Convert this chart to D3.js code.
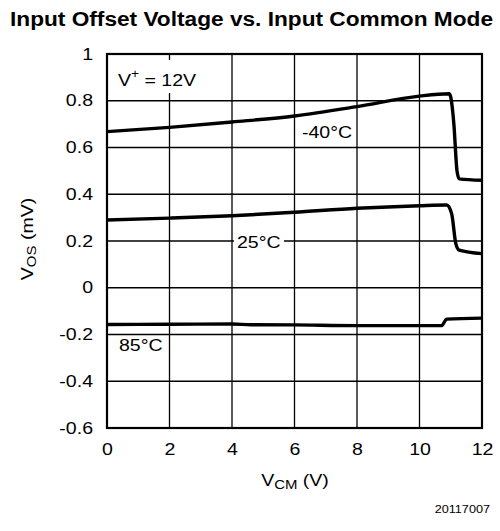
<!DOCTYPE html>
<html>
<head>
<meta charset="utf-8">
<script src="https://cdn.jsdelivr.net/npm/d3@7"></script>
<style>
  html, body { margin: 0; padding: 0; background: #fff; }
  svg { display: block; font-family: "Liberation Sans", Arial, sans-serif; }
</style>
</head>
<body>
<svg id="chart" width="500" height="531"></svg>
<script>
// ─── Data ─────────────────────────────────────────
const xTicks = [0, 2, 4, 6, 8, 10, 12];
const yTicks = [-0.6, -0.4, -0.2, 0, 0.2, 0.4, 0.6, 0.8, 1];

const vcmM40 = [0, 2, 4, 6, 8, 10, 10.95, 11.0, 11.1, 11.2, 11.27, 12];
const vosM40 = [0.668, 0.686, 0.709, 0.735, 0.775, 0.820, 0.830, 0.815, 0.70, 0.50, 0.466, 0.460];

const vcm25 = [0, 2, 4, 6, 8, 10, 10.87, 11.03, 11.16, 11.27, 12];
const vos25 = [0.290, 0.298, 0.308, 0.323, 0.340, 0.351, 0.354, 0.316, 0.19, 0.161, 0.146];

const vcm85 = [0, 2, 4, 4.6, 6, 8, 10.71, 10.87, 12];
const vos85 = [-0.157, -0.156, -0.155, -0.158, -0.159, -0.162, -0.162, -0.134, -0.130];

(function () {
  'use strict';

  const svg = d3.select('#chart');
  const SX = 1.15; // reference glyphs are a bit wider than Arial

  const x = d3.scaleLinear().domain([0, 12]).range([107, 482]);
  const y = d3.scaleLinear().domain([-0.6, 1]).range([428, 54]);

  // ─── Title ──────────────────────────────────────
  svg.append('text')
    .attr('x', 10).attr('y', 26)
    .attr('textLength', 483)
    .attr('lengthAdjust', 'spacingAndGlyphs')
    .style('font-weight', 'bold')
    .style('font-size', '20px')
    .text('Input Offset Voltage vs. Input Common Mode');

  // ─── Gridlines ──────────────────────────────────
  const grid = svg.append('g').attr('class', 'gridlines');
  xTicks.forEach(function (v) {
    grid.append('line')
      .attr('x1', x(v)).attr('x2', x(v))
      .attr('y1', y(1)).attr('y2', y(-0.6))
      .attr('stroke', '#000').attr('stroke-width', 1.3);
  });
  yTicks.forEach(function (v) {
    grid.append('line')
      .attr('x1', x(0)).attr('x2', x(12))
      .attr('y1', y(v)).attr('y2', y(v))
      .attr('stroke', '#000').attr('stroke-width', 1.3);
  });

  // white boxes behind in-plot labels
  function box(x0, y0, w, h) {
    svg.append('rect').attr('x', x0).attr('y', y0).attr('width', w).attr('height', h).attr('fill', '#fff');
  }
  box(110, 60, 89, 33);
  box(234, 233, 50, 17);
  box(117, 337, 51, 17);

  // ─── Curves ─────────────────────────────────────
  const lineGen = d3.line()
    .x(function (d) { return x(d[0]); })
    .y(function (d) { return y(d[1]); })
    .curve(d3.curveMonotoneX);

  [[vcmM40, vosM40], [vcm25, vos25], [vcm85, vos85]].forEach(function (s) {
    svg.append('path')
      .datum(d3.zip(s[0], s[1]))
      .attr('fill', 'none')
      .attr('stroke', '#000')
      .attr('stroke-width', 3.4)
      .attr('stroke-linejoin', 'round')
      .attr('d', lineGen);
  });

  // ─── Frame ──────────────────────────────────────
  svg.append('rect')
    .attr('x', x(0)).attr('y', y(1))
    .attr('width', x(12) - x(0)).attr('height', y(-0.6) - y(1))
    .attr('fill', 'none').attr('stroke', '#000').attr('stroke-width', 2.2);

  // ─── Axes (labels only) ─────────────────────────
  const fmt = function (d) { return String(Math.round(d * 10) / 10); };

  const gy = svg.append('g')
    .attr('transform', 'translate(' + x(0) + ',0)')
    .call(d3.axisLeft(y).tickValues(yTicks).tickSize(0).tickFormat(fmt));
  gy.select('.domain').remove();
  gy.selectAll('.tick text')
    .attr('x', -14 / SX)
    .attr('dy', '0.3em')
    .attr('transform', 'scale(' + SX + ',1)')
    .attr('fill', '#000')
    .style('font-family', '"Liberation Sans", Arial, sans-serif')
    .style('font-size', '17px');

  const gx = svg.append('g')
    .attr('transform', 'translate(0,' + y(-0.6) + ')')
    .call(d3.axisBottom(x).tickValues(xTicks).tickSize(0).tickFormat(fmt));
  gx.select('.domain').remove();
  gx.selectAll('.tick text')
    .attr('y', 27)
    .attr('dy', 0)
    .attr('transform', 'scale(' + SX + ',1)')
    .attr('fill', '#000')
    .style('font-family', '"Liberation Sans", Arial, sans-serif')
    .style('font-size', '17px');

  // ─── Text helper ────────────────────────────────
  function label(tx, ty, anchor, size) {
    return svg.append('text')
      .attr('transform', 'translate(' + tx + ',' + ty + ') scale(' + SX + ',1)')
      .attr('text-anchor', anchor)
      .style('font-size', size + 'px');
  }

  // axis titles
  const xt = label(295, 486, 'middle', 17);
  xt.append('tspan').text('V');
  xt.append('tspan').attr('dy', 3).style('font-size', '13px').text('CM');
  xt.append('tspan').attr('dy', -3).text(' (V)');

  const ytg = svg.append('g').attr('transform', 'translate(33,239) rotate(-90)');
  const yt = ytg.append('text')
    .attr('transform', 'scale(' + SX + ',1)')
    .attr('text-anchor', 'middle')
    .style('font-size', '17px');
  yt.append('tspan').text('V');
  yt.append('tspan').attr('dy', 3).style('font-size', '13px').text('OS');
  yt.append('tspan').attr('dy', -3).text(' (mV)');

  // in-plot labels
  const vp = label(118, 86, 'start', 17);
  vp.append('tspan').text('V');
  vp.append('tspan').attr('dy', -8).style('font-size', '12px').text('+');
  vp.append('tspan').attr('dy', 8).text(' = 12V');

  label(302, 137.5, 'start', 17).text('-40°C');
  label(237, 248, 'start', 17).text('25°C');
  label(119, 351, 'start', 17).text('85°C');

  // figure id
  label(490, 513, 'end', 11).text('20117007');
})();
</script>
</body>
</html>
